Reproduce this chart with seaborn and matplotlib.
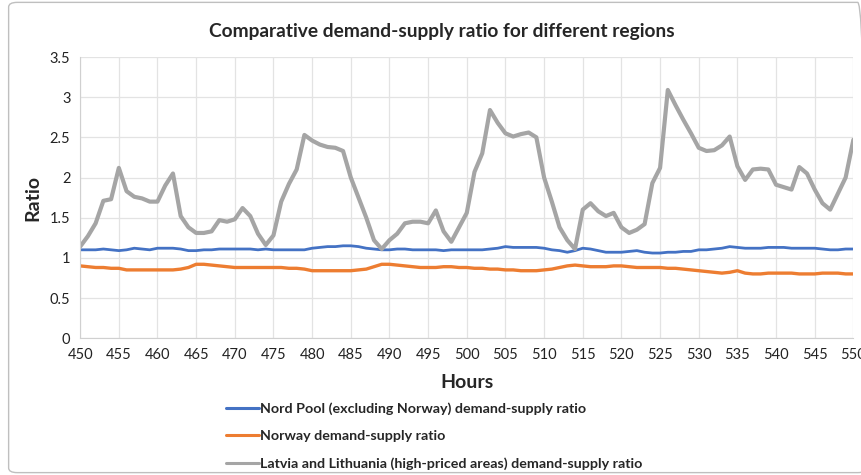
import numpy as np
import pandas as pd
import matplotlib.pyplot as plt
import seaborn as sns
from matplotlib.patches import FancyBboxPatch

hours = list(range(450, 551))

nord_pool = [
    1.10, 1.10, 1.10, 1.11, 1.10, 1.09, 1.10, 1.12, 1.11, 1.10,
    1.12, 1.12, 1.12, 1.11, 1.09, 1.09, 1.10, 1.10, 1.11, 1.11,
    1.11, 1.11, 1.11, 1.10, 1.11, 1.10, 1.10, 1.10, 1.10, 1.10,
    1.12, 1.13, 1.14, 1.14, 1.15, 1.15, 1.14, 1.12, 1.11, 1.10,
    1.10, 1.11, 1.11, 1.10, 1.10, 1.10, 1.10, 1.09, 1.10, 1.10,
    1.10, 1.10, 1.10, 1.11, 1.12, 1.14, 1.13, 1.13, 1.13, 1.13,
    1.12, 1.10, 1.09, 1.07, 1.09, 1.12, 1.11, 1.09, 1.07, 1.07,
    1.07, 1.08, 1.09, 1.07, 1.06, 1.06, 1.07, 1.07, 1.08, 1.08,
    1.10, 1.10, 1.11, 1.12, 1.14, 1.13, 1.12, 1.12, 1.12, 1.13,
    1.13, 1.13, 1.12, 1.12, 1.12, 1.12, 1.11, 1.10, 1.10, 1.11,
    1.11,
]

norway = [
    0.90, 0.89, 0.88, 0.88, 0.87, 0.87, 0.85, 0.85, 0.85, 0.85,
    0.85, 0.85, 0.85, 0.86, 0.88, 0.92, 0.92, 0.91, 0.90, 0.89,
    0.88, 0.88, 0.88, 0.88, 0.88, 0.88, 0.88, 0.87, 0.87, 0.86,
    0.84, 0.84, 0.84, 0.84, 0.84, 0.84, 0.85, 0.86, 0.89, 0.92,
    0.92, 0.91, 0.90, 0.89, 0.88, 0.88, 0.88, 0.89, 0.89, 0.88,
    0.88, 0.87, 0.87, 0.86, 0.86, 0.85, 0.85, 0.84, 0.84, 0.84,
    0.85, 0.86, 0.88, 0.90, 0.91, 0.90, 0.89, 0.89, 0.89, 0.90,
    0.90, 0.89, 0.88, 0.88, 0.88, 0.88, 0.87, 0.87, 0.86, 0.85,
    0.84, 0.83, 0.82, 0.81, 0.82, 0.84, 0.81, 0.80, 0.80, 0.81,
    0.81, 0.81, 0.81, 0.80, 0.80, 0.80, 0.81, 0.81, 0.81, 0.80,
    0.80,
]

latvia_lithuania = [
    1.14, 1.27, 1.43, 1.71, 1.73, 2.12, 1.83, 1.76, 1.74, 1.70,
    1.70, 1.90, 2.05, 1.52, 1.38, 1.31, 1.31, 1.33, 1.47, 1.45,
    1.48, 1.62, 1.52, 1.30, 1.16, 1.28, 1.70, 1.92, 2.10, 2.53,
    2.46, 2.41, 2.38, 2.37, 2.33, 2.00, 1.75, 1.50, 1.22, 1.11,
    1.22, 1.30, 1.43, 1.45, 1.45, 1.43, 1.59, 1.33, 1.20, 1.38,
    1.56, 2.07, 2.30, 2.84, 2.68, 2.55, 2.51, 2.54, 2.56, 2.50,
    2.00, 1.70, 1.38, 1.22, 1.11, 1.60, 1.68, 1.58, 1.52, 1.56,
    1.38, 1.31, 1.35, 1.42, 1.93, 2.12, 3.09, 2.90, 2.72, 2.55,
    2.37, 2.33, 2.34, 2.40, 2.51, 2.14, 1.97, 2.10, 2.11, 2.10,
    1.91, 1.88, 1.85, 2.13, 2.05, 1.85, 1.68, 1.60, 1.80, 2.00,
    2.47,
]

series_names = [
    "Nord Pool (excluding Norway) demand-supply ratio",
    "Norway demand-supply ratio",
    "Latvia and Lithuania (high-priced areas) demand-supply ratio",
]

df = pd.concat([
    pd.DataFrame({"Hours": hours, "Ratio": nord_pool, "Series": series_names[0]}),
    pd.DataFrame({"Hours": hours, "Ratio": norway, "Series": series_names[1]}),
    pd.DataFrame({"Hours": hours, "Ratio": latvia_lithuania, "Series": series_names[2]}),
])

sns.set_style("white")
plt.rcParams["font.family"] = ["Lato", "DejaVu Sans"]

fig = plt.figure(figsize=(8.62, 4.75), dpi=100)
ax = fig.add_axes([0.093, 0.288, 0.897, 0.592])

palette = {series_names[0]: "#4472C4", series_names[1]: "#ED7D31", series_names[2]: "#A5A5A5"}
sizes = {series_names[0]: 2.0, series_names[1]: 2.4, series_names[2]: 3.0}
sns.lineplot(data=df, x="Hours", y="Ratio", hue="Series", size="Series",
             sizes=sizes, palette=palette, ax=ax, legend=False)
for line in ax.lines:
    line.set_solid_capstyle("round")
    line.set_solid_joinstyle("round")

ax.set_xlim(450, 550)
ax.set_ylim(0, 3.5)
ax.set_xticks(range(450, 551, 5))
ax.set_yticks(np.arange(0, 3.51, 0.5))
ax.set_yticklabels(["0", "0.5", "1", "1.5", "2", "2.5", "3", "3.5"])
ax.grid(True, color="#E3E3E3", linewidth=0.9)
ax.set_axisbelow(True)
for side in ["top", "right"]:
    ax.spines[side].set_visible(False)
for side in ["left", "bottom"]:
    ax.spines[side].set_color("#D0D0D0")
ax.tick_params(axis="both", labelsize=10.5, length=0, pad=7, colors="#222222")

ax.set_xlabel("Hours", fontsize=14, fontweight="bold", labelpad=9)
ax.set_ylabel("Ratio", fontsize=14, fontweight="bold", labelpad=6)
fig.suptitle("Comparative demand-supply ratio for different regions",
             fontsize=13.8, fontweight="bold", x=0.512, y=0.952)

handles = [plt.Line2D([], [], color=palette[n], linewidth=2.2) for n in series_names]
leg = fig.legend(handles, series_names, loc="lower left", bbox_to_anchor=(0.247, -0.016),
                 ncol=1, frameon=False, handlelength=2.3, handletextpad=0.1,
                 labelspacing=1.05, prop={"weight": "bold", "size": 10.3})

border = FancyBboxPatch((0.01, 0.005), 0.995, 0.99, boxstyle="round,pad=0,rounding_size=0.01",
                        transform=fig.transFigure, fill=False, edgecolor="#BFBFBF", linewidth=1)
fig.patches.append(border)

fig.savefig("out.png", dpi=100)
